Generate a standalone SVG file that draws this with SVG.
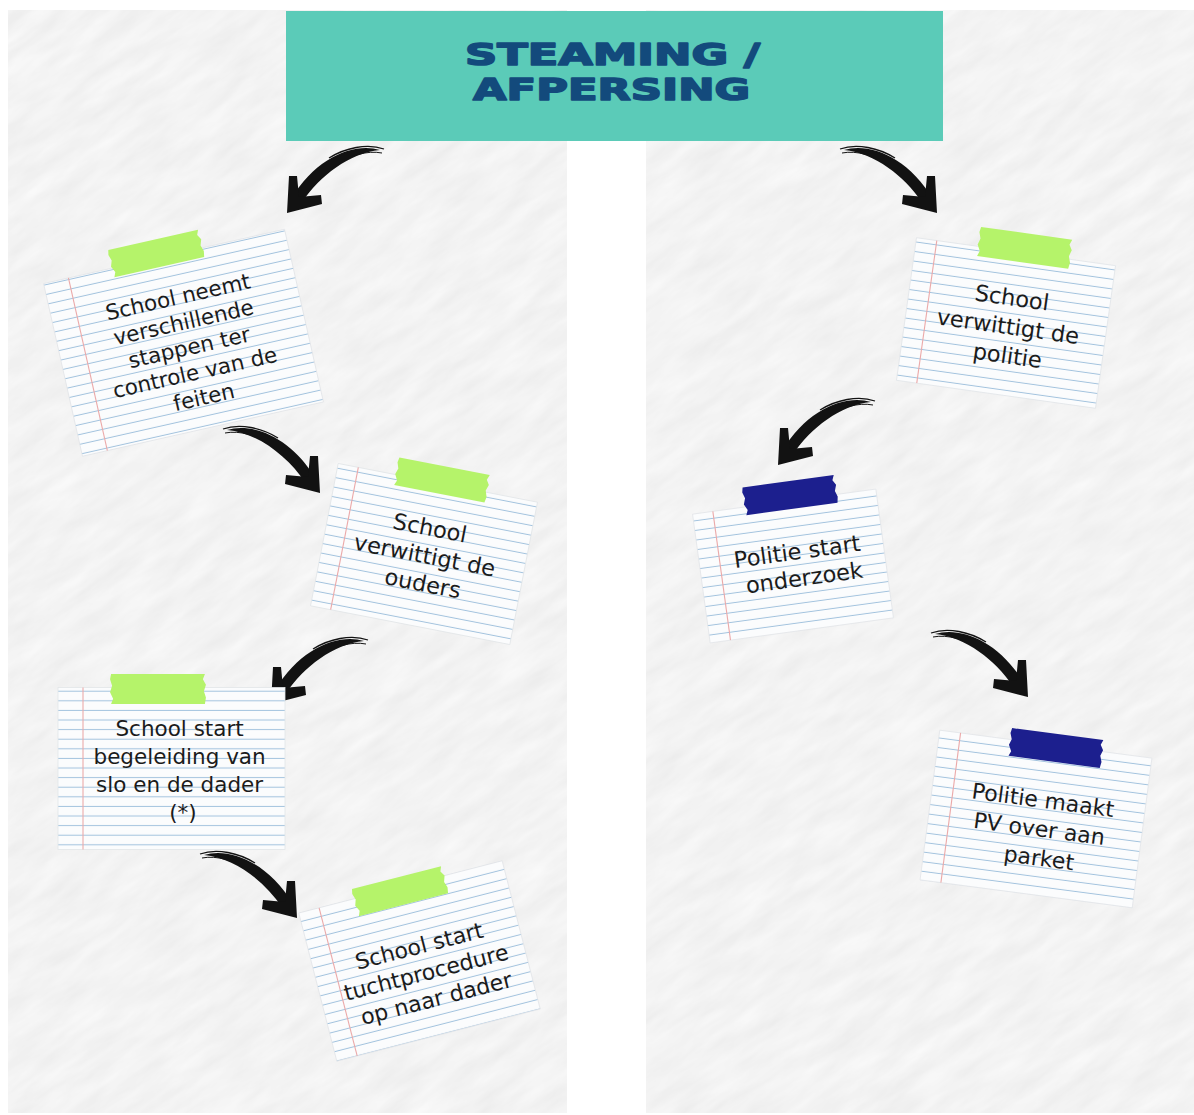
<svg xmlns="http://www.w3.org/2000/svg" width="1194" height="1115" viewBox="0 0 1194 1115">
  <style>
    .paper { fill: url(#ruled); stroke: #e2e5e8; stroke-width: 0.8; }
    .margin { stroke: #eba9a9; stroke-width: 1.1; }
    .tape-g { fill: #b5f36a; }
    .tape-b { fill: #1c1f8e; }
    .note-text { font-family: "DejaVu Sans", "Liberation Sans", sans-serif; fill: #1b1b1b; text-anchor: middle; }
    .title { font-family: "DejaVu Sans", "Liberation Sans", sans-serif; font-weight: bold; font-size: 30px; fill: #134a7c; stroke: #134a7c; stroke-width: 1.6; stroke-linejoin: round; text-anchor: middle; }
    .arrow { fill: #121212; }
  </style>
  <defs>
    <filter id="paperTex" x="0" y="0" width="1" height="1">
      <feTurbulence type="fractalNoise" baseFrequency="0.018 0.07" numOctaves="4" seed="7"/>
      <feColorMatrix type="matrix" values="0.13 0 0 0 0.83  0.13 0 0 0 0.83  0.13 0 0 0 0.83  0 0 0 0 1"/>
    </filter>
    <clipPath id="panels">
      <rect x="8" y="10" width="559" height="1103"/>
      <rect x="646" y="10" width="548" height="1103"/>
    </clipPath>
    <pattern id="ruled" patternUnits="userSpaceOnUse" width="20" height="9.6">
      <rect width="20" height="9.6" fill="#fbfcfd"/>
      <line x1="0" y1="9.1" x2="20" y2="9.1" stroke="#a3c3de" stroke-width="1"/>
    </pattern>
    <path id="tape" d="M-46,-14 L46,-14 L44,-9 L47,-4 L45,2 L47,8 L46,14 L-46,14 L-44,9 L-47,3 L-45,-3 L-47,-9 Z"/>
    <g id="arrow" class="arrow">
      <path d="M93,-63 C68,-71 29,-56 4,-14 L15,-11 C33,-37 62,-60 93,-63 Z"/>
      <path d="M97,-64 C80,-70 58,-65 42,-55" fill="none" stroke="#121212" stroke-width="1.3"/>
      <path d="M95,-60 C80,-63 62,-57 50,-49" fill="none" stroke="#121212" stroke-width="1"/>
      <polygon points="0,0 2,-37 10,-37 12,-16 34,-18 35,-9"/>
    </g>
  </defs>

  <rect width="1194" height="1115" fill="#ffffff"/>
  <g id="background" clip-path="url(#panels)">
    <rect x="-500" y="-500" width="2200" height="2100" fill="#e6e6e6" filter="url(#paperTex)" transform="rotate(-35 597 557)"/>
  </g>

  <g id="title">
    <rect x="286" y="11" width="657" height="130" fill="#5bcbb8"/>
    <text class="title" x="612.5" y="65" textLength="295" lengthAdjust="spacingAndGlyphs">STEAMING /</text>
    <text class="title" x="611.5" y="100" textLength="277" lengthAdjust="spacingAndGlyphs">AFPERSING</text>
  </g>

  <g id="connectors">
    <use href="#arrow" transform="translate(287,213)"/>
    <use href="#arrow" transform="translate(937,213) scale(-1,1)"/>
    <use href="#arrow" transform="translate(320,493) scale(-1,1)"/>
    <use href="#arrow" transform="translate(271,704)"/>
    <use href="#arrow" transform="translate(297,918) scale(-1,1)"/>
    <use href="#arrow" transform="translate(778,465)"/>
    <use href="#arrow" transform="translate(1028,697) scale(-1,1)"/>
  </g>

  <g id="note-controle" transform="translate(183.5,342.75) rotate(-12.7)">
    <rect class="paper" x="-123.5" y="-88.5" width="247" height="177"/>
    <line class="margin" x1="-98" y1="-88.5" x2="-98" y2="88.5"/>
    <use href="#tape" class="tape-g" transform="translate(-7,-93)"/>
    <text class="note-text" font-size="21.5">
      <tspan x="8" y="-38.5">School neemt</tspan>
      <tspan x="8" y="-12.6">verschillende</tspan>
      <tspan x="8" y="13.2">stappen ter</tspan>
      <tspan x="8" y="39">controle van de</tspan>
      <tspan x="8" y="65">feiten</tspan>
    </text>
  </g>

  <g id="note-ouders" transform="translate(424,554) rotate(11)">
    <rect class="paper" x="-101.5" y="-72.5" width="203" height="145"/>
    <line class="margin" x1="-81" y1="-72.5" x2="-81" y2="72.5"/>
    <use href="#tape" class="tape-g" transform="translate(3.5,-76)"/>
    <text class="note-text" font-size="22.5">
      <tspan x="4.5" y="-19">School</tspan>
      <tspan x="4.5" y="9">verwittigt de</tspan>
      <tspan x="4.5" y="37">ouders</tspan>
    </text>
  </g>

  <g id="note-begeleiding" transform="translate(171.5,768.5)">
    <rect class="paper" x="-113.5" y="-81" width="227" height="162"/>
    <line class="margin" x1="-88.5" y1="-81" x2="-88.5" y2="81"/>
    <use href="#tape" class="tape-g" transform="translate(-13.5,-79.5) scale(1.02,1.07)"/>
    <text class="note-text" font-size="21.5">
      <tspan x="11.5" y="-32.5">School start</tspan>
      <tspan x="11.5" y="-4.5">begeleiding van</tspan>
      <tspan x="11.5" y="23.5">slo en de dader</tspan>
      <tspan x="11.5" y="51.5">(*)</tspan>
    </text>
  </g>

  <g id="note-tucht" transform="translate(419.5,961) rotate(-14.4)">
    <rect class="paper" x="-105" y="-76.5" width="210" height="153"/>
    <line class="margin" x1="-84" y1="-76.5" x2="-84" y2="76.5"/>
    <use href="#tape" class="tape-g" transform="translate(-1.5,-72.5)"/>
    <text class="note-text" font-size="22">
      <tspan x="7" y="-7">School start</tspan>
      <tspan x="7" y="20.5">tuchtprocedure</tspan>
      <tspan x="7" y="48">op naar dader</tspan>
    </text>
  </g>

  <g id="note-politie" transform="translate(1006,323) rotate(8)">
    <rect class="paper" x="-100.5" y="-72" width="201" height="144"/>
    <line class="margin" x1="-80" y1="-72" x2="-80" y2="72"/>
    <use href="#tape" class="tape-g" transform="translate(8,-77) scale(1,1.05)"/>
    <text class="note-text" font-size="22.5">
      <tspan x="6" y="-18">School</tspan>
      <tspan x="6" y="11">verwittigt de</tspan>
      <tspan x="6" y="40">politie</tspan>
    </text>
  </g>

  <g id="note-onderzoek" transform="translate(793,566) rotate(-7.8)">
    <rect class="paper" x="-92.5" y="-65" width="185" height="130"/>
    <line class="margin" x1="-72" y1="-65" x2="-72" y2="65"/>
    <use href="#tape" class="tape-b" transform="translate(6.7,-70.7)"/>
    <text class="note-text" font-size="22.5">
      <tspan x="9.6" y="-6">Politie start</tspan>
      <tspan x="9.6" y="21">onderzoek</tspan>
    </text>
  </g>

  <g id="note-pv" transform="translate(1036,819) rotate(7.5)">
    <rect class="paper" x="-107" y="-75.5" width="214" height="151"/>
    <line class="margin" x1="-86" y1="-75.5" x2="-86" y2="75.5"/>
    <use href="#tape" class="tape-b" transform="translate(10.5,-73)"/>
    <text class="note-text" font-size="22">
      <tspan x="8" y="-12">Politie maakt</tspan>
      <tspan x="8" y="17">PV over aan</tspan>
      <tspan x="8" y="46">parket</tspan>
    </text>
  </g>
</svg>
